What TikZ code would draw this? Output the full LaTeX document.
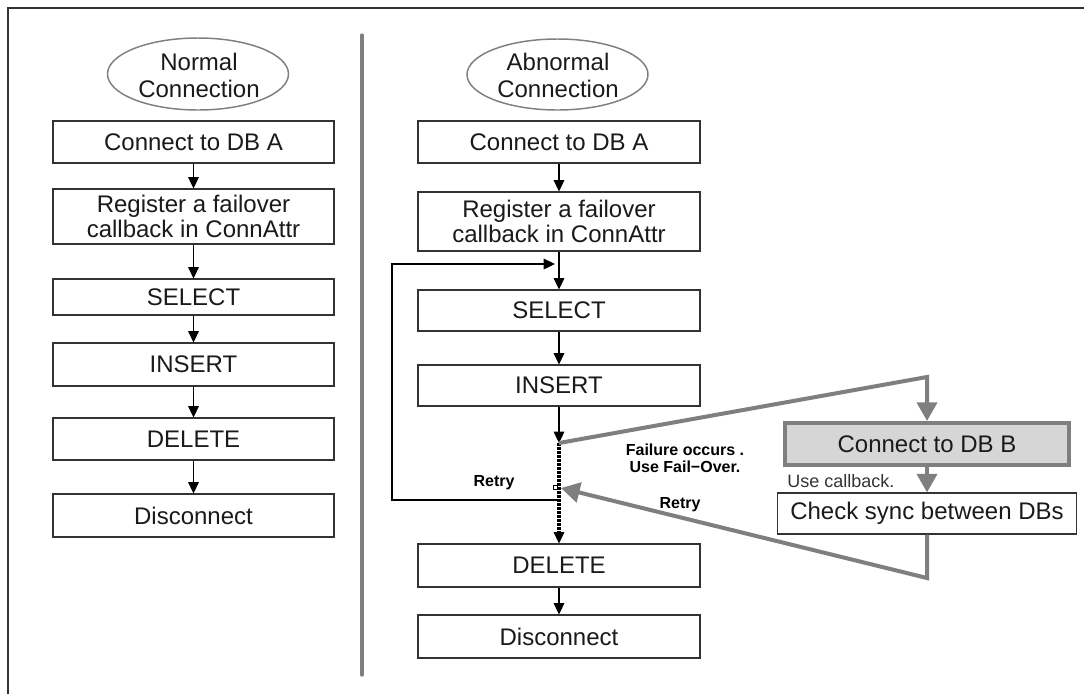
\documentclass[tikz,border=0pt]{standalone}
\usepackage{fontspec}
\setmainfont{Liberation Sans}
\usetikzlibrary{arrows.meta,shapes.geometric}
\definecolor{gc}{HTML}{7F7F7F}
\definecolor{bc}{HTML}{333333}
\definecolor{fillb}{HTML}{D6D6D6}
\definecolor{tc}{HTML}{1A1A1A}
\begin{document}
\begin{tikzpicture}[x=0.75pt,y=-0.75pt,
  sz/.style 2 args={minimum width=#1*0.75pt, minimum height=#2*0.75pt},
  box/.style={draw=bc, line width=0.8pt, fill=white, inner sep=0pt, text=tc,
    font=\fontsize{18}{18.75}\selectfont, align=center},
  gbox/.style={draw=gc, line width=3pt, fill=fillb, inner sep=0pt, text=tc,
    font=\fontsize{18}{18.75}\selectfont},
  oval/.style={ellipse, draw=gc, line width=1.1pt, inner sep=0pt},
  ovtext/.style={font=\fontsize{18}{20.25}\selectfont, align=center, text=tc, inner sep=0pt},
  blk/.style={draw=black, line width=0.8pt, -{Triangle[width=8pt,length=8.5pt]}},
  dotl/.style={draw=black, line width=2.6pt, dash pattern=on 2.2pt off 0.8pt},
  garr/.style={draw=gc, line width=3pt, -{Triangle[width=15pt,length=14pt]}},
  gline/.style={draw=gc, line width=3pt},
  lbl/.style={font=\fontsize{12}{12.75}\bfseries\selectfont, align=center, inner sep=0pt, text=black},
  frame/.style={draw=bc, line width=1.3pt},
  divider/.style={draw=gc, line width=2.4pt, line cap=round}
]
\useasboundingbox (0,0) rectangle (1084,694);
% frame
\coordinate (fa) at (8,694);
\coordinate (fb) at (8,8);
\coordinate (fc) at (1084,8);
\draw[frame] (fa) -- (fb) -- (fc);
% divider
\coordinate (da) at (362,35);
\coordinate (db) at (362,675);
\draw[divider] (da) -- (db);

% ---- left column
\node[oval, sz={181}{72}] (e1) at (198,74) {};
\node[ovtext] (e1t) at (199,75) {Normal\\Connection};
\node[box, sz={281}{42}] (la) at (193.5,142) {Connect to DB A};
\node[box, sz={281}{55}] (lr) at (193.5,216.5) {Register a failover\\callback in ConnAttr};
\node[box, sz={281}{36}] (ls) at (193.5,297) {SELECT};
\node[box, sz={281}{43}] (li) at (193.5,364.5) {INSERT};
\node[box, sz={281}{42}] (ld) at (193.5,439) {DELETE};
\node[box, sz={281}{43}] (lx) at (193.5,515.5) {Disconnect};
\draw[blk] (la) -- (lr);
\draw[blk] (lr) -- (ls);
\draw[blk] (ls) -- (li);
\draw[blk] (li) -- (ld);
\draw[blk] (ld) -- (lx);

% ---- right column
\node[oval, sz={181}{71}] (e2) at (557.5,74.5) {};
\node[ovtext] (e2t) at (558,75) {Abnormal\\Connection};
\node[box, sz={282}{42}] (ra) at (559,142) {Connect to DB A};
\node[box, sz={282}{59}] (rr) at (559,221.5) {Register a failover\\callback in ConnAttr};
\node[box, sz={282}{41}] (rs) at (559,310.5) {SELECT};
\node[box, sz={282}{41}] (ri) at (559,385.5) {INSERT};
\node[box, sz={282}{43}] (rd) at (559,565.5) {DELETE};
\node[box, sz={282}{43}] (rx) at (559,636.5) {Disconnect};

\node[gbox, sz={284}{42}] (dbb) at (927,444) {Connect to DB B};
\node[box, sz={299}{41}] (chk) at (927,513.5) {Check sync between DBs};

\coordinate (f1) at (559,443);
\coordinate (rt) at (559,500);
\coordinate (j1) at (559,264);
\coordinate (l1) at (392,500);
\coordinate (l2) at (392,264);
\coordinate (g1) at (927,377);
\coordinate (g2) at (927,578);
\coordinate (g3) at (561,488);

\draw[blk] (ra) -- (rr);
\draw[blk] (rr) -- (rs);
\draw[blk] (rs) -- (ri);
\draw[blk] (ri.south) -- (f1);
\draw[dotl] (f1) -- ([yshift=6pt]rd.north);
\draw[blk] ([yshift=7pt]rd.north) -- (rd.north);
\draw[blk] (rd) -- (rx);
% retry loop (black)
\draw[blk] (rt) -- (l1) -- (l2) -- ([xshift=-3pt]j1);
% small marker
\node[draw=black, fill=white, line width=0.5pt, minimum size=3pt, inner sep=0pt] (sq) at (555,487) {};

% gray failover path
\draw[gline] (f1) -- (g1) -- ([yshift=12pt]dbb.north);
\draw[garr] ([yshift=12pt]dbb.north) -- (dbb.north);
\draw[garr] (dbb.south) -- (chk.north);
\draw[garr] (chk.south) -- (g2) -- (g3);

% labels
\node[lbl] (fail) at (685,458) {Failure occurs .\\Use Fail−Over.};
\node[lbl] (retry1) at (494,483) {Retry};
\node[lbl] (retry2) at (680,505) {Retry};
\node[anchor=west, inner sep=0pt, font=\fontsize{13.5}{14}\selectfont, text=black!80] (ucb) at (787,481) {Use callback.};
\end{tikzpicture}
\end{document}
